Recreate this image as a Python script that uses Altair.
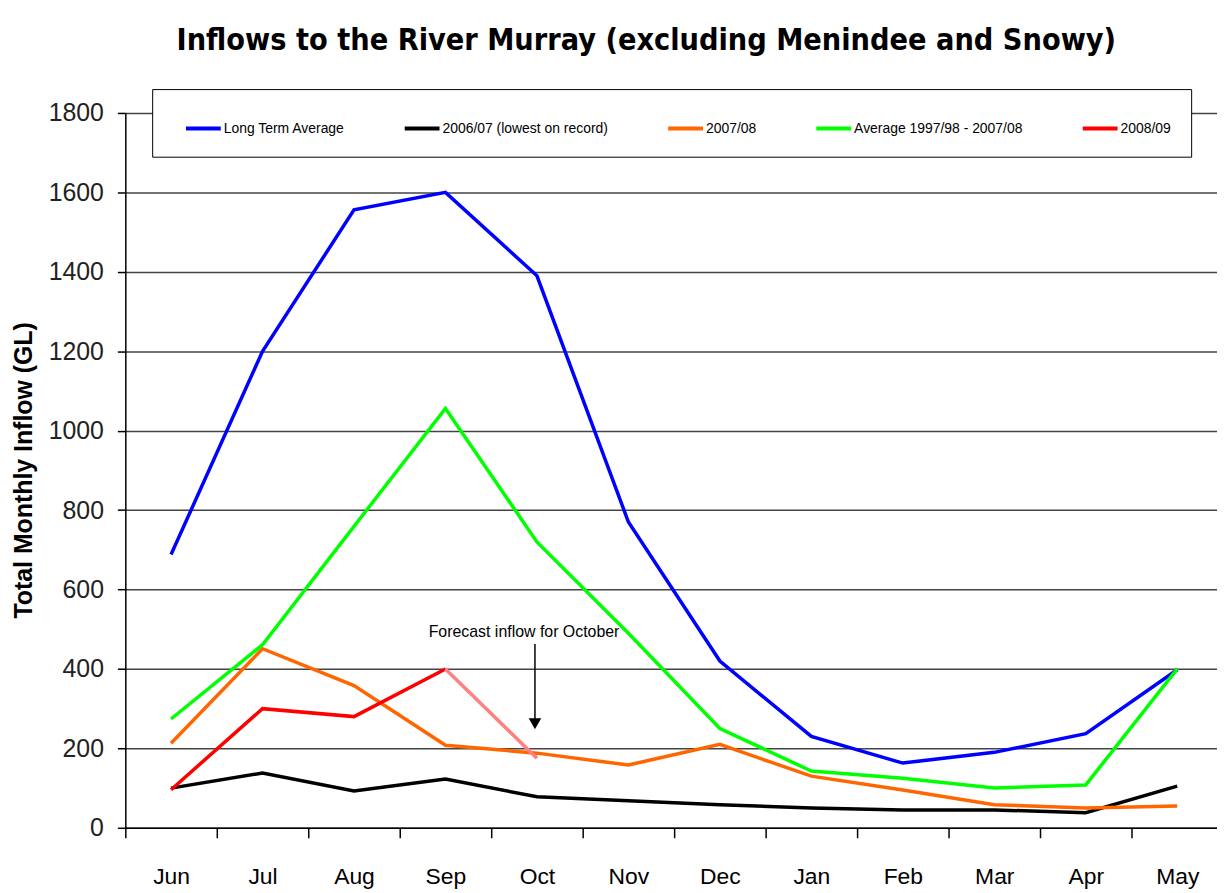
import altair as alt
import pandas as pd

months = ["Jun", "Jul", "Aug", "Sep", "Oct", "Nov", "Dec", "Jan", "Feb", "Mar", "Apr", "May"]
series_names = ["Long Term Average", "2006/07 (lowest on record)", "2007/08",
                "Average 1997/98 - 2007/08", "2008/09"]
series_colors = ["#0000FF", "#000000", "#FF6600", "#00FF00", "#FF0000"]

long_term = [688, 1200, 1556, 1600, 1390, 770, 420, 230, 163, 190, 237, 398]
y2006_07 = [100, 138, 93, 123, 78, 68, 58, 50, 45, 45, 38, 105]
y2007_08 = [213, 451, 358, 208, 188, 158, 210, 130, 95, 58, 50, 55]
avg_97_08 = [274, 461, 759, 1056, 720, 490, 250, 143, 125, 100, 108, 400]
y2008_09 = [96, 300, 280, 400]
forecast_months = ["Sep", "Oct"]
forecast_values = [400, 175]

annot_text = "Forecast inflow for October"
annot_month = "Oct"
annot_text_y = 493
arrow_top = 463
arrow_tip = 262

FONT = "Liberation Sans, Arial, sans-serif"
TFONT = "'DejaVu Sans Condensed', 'Liberation Sans', sans-serif"

rows = []
for name, vals in zip(series_names, [long_term, y2006_07, y2007_08, avg_97_08, y2008_09]):
    for m, v in zip(months, vals):
        rows.append({"month": m, "value": v, "series": name})
df = pd.DataFrame(rows)
df_fc = pd.DataFrame({"month": forecast_months, "value": forecast_values})
df_annot = pd.DataFrame({"month": [annot_month], "y": [annot_text_y], "y1": [arrow_top],
                         "y2": [arrow_tip], "label": [annot_text]})

xenc = alt.X("month:N", sort=months, scale=alt.Scale(domain=months),
             axis=alt.Axis(title=None, tickBand="extent", grid=False, labelFontSize=23,
                           labelFont=FONT, labelColor="#000", labelPadding=28, tickSize=10,
                           tickColor="#000", domainColor="#000", domainWidth=1.5, tickWidth=1.5,
                           labelAngle=0))
yenc = alt.Y("value:Q", scale=alt.Scale(domain=[0, 1800], nice=False),
             axis=alt.Axis(title="Total Monthly Inflow (GL)", values=list(range(0, 1801, 200)),
                           format="d",
                           titleFont=FONT, titleFontSize=25, titleFontWeight="bold",
                           titleColor="#000", titleX=-102, titleY=359, titleAngle=270,
                           titleAlign="center", titleBaseline="middle",
                           labelFont=FONT, labelFontSize=25, labelColor="#222", labelPadding=14,
                           tickSize=8, tickColor="#000", domainColor="#000", domainWidth=1.5,
                           gridColor="#444", gridWidth=1.5, tickWidth=1.5))

lines = alt.Chart(df).mark_line(strokeWidth=3.5).encode(
    x=xenc, y=yenc,
    color=alt.Color("series:N", sort=series_names,
                    scale=alt.Scale(domain=series_names, range=series_colors),
                    legend=alt.Legend(title=None, orient="none", direction="horizontal",
                                      legendX=27, legendY=-24, columns=5, columnPadding=46,
                                      symbolType="stroke", symbolSize=1225, symbolStrokeWidth=4,
                                      symbolOffset=12, labelOffset=1, labelLimit=400,
                                      labelFont=FONT, labelFontSize=14, labelColor="#000",
                                      padding=20, fillColor="white", strokeColor="#000",
                                      cornerRadius=0)),
    detail="series:N",
    order=alt.Order("idx:Q")
).transform_calculate(idx="indexof(%s, datum.month)" % str(months))

fc = alt.Chart(df_fc).mark_line(strokeWidth=3.5, color="#FF8080").encode(
    x=alt.X("month:N", sort=months), y=alt.Y("value:Q"))

txt = alt.Chart(df_annot).mark_text(font=FONT, fontSize=16, color="#000", dx=-13).encode(
    x=alt.X("month:N", sort=months), y=alt.Y("y:Q"), text="label:N")
rule = alt.Chart(df_annot).mark_rule(color="#000", strokeWidth=1.5, xOffset=-2).encode(
    x=alt.X("month:N", sort=months), y=alt.Y("y1:Q"), y2="y2:Q")
head = alt.Chart(df_annot).mark_point(shape="triangle-down", filled=True, color="#000",
                                      size=160, opacity=1, xOffset=-2).encode(
    x=alt.X("month:N", sort=months), y=alt.Y("y2:Q"))

chart = alt.layer(lines, fc, rule, head, txt).properties(
    width=1104, height=719,
    title=alt.TitleParams("Inflows to the River Murray (excluding Menindee and Snowy)",
                          font=TFONT, fontSize=30.5, fontWeight="bold", color="#000",
                          anchor="middle", dx=-28, offset=32),
    autosize=alt.AutoSizeParams(type="none"),
    padding={"left": 118, "top": 103, "right": -6, "bottom": 60},
).configure_view(stroke=None)

chart.save("out.html", embed_options={"renderer": "svg", "actions": False})
